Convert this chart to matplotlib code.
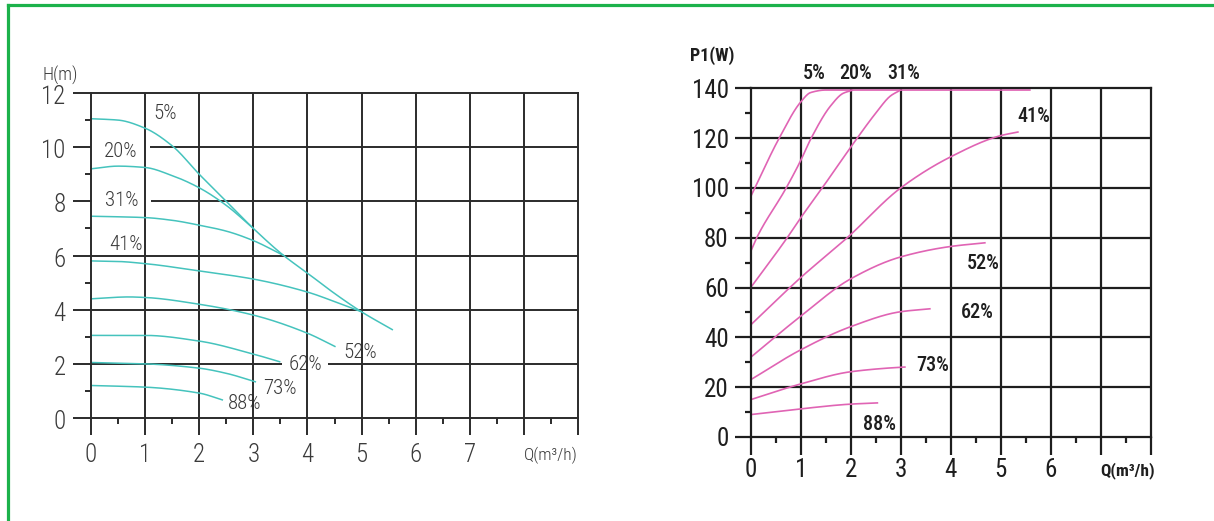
import numpy as np
import matplotlib
matplotlib.use("Agg")
import matplotlib.pyplot as plt
from matplotlib import font_manager as fm
from matplotlib.lines import Line2D
from matplotlib.ticker import MultipleLocator, NullFormatter

# ---------------- data : left chart  H(m) vs Q(m3/h) ----------------
h_speeds = ["5%", "20%", "31%", "41%", "52%", "62%", "73%", "88%"]
h_q = [
    [0, 0.5, 1, 1.5, 2, 2.5, 3, 3.56, 4, 4.5, 5, 5.58],
    [0, 0.5, 1, 1.5, 2, 2.5, 3],
    [0, 1, 1.5, 2, 2.5, 3, 3.56],
    [0, 0.5, 1, 2, 3, 4, 4.5, 5],
    [0, 0.7, 1, 2, 3, 4, 4.52],
    [0, 1, 2, 3, 3.5],
    [0, 1, 2, 2.5, 3.05],
    [0, 1, 2, 2.44],
]
h_h = [
    [11.05, 11.0, 10.7, 10.05, 9.0, 8.0, 7.0, 6.0, 5.35, 4.6, 3.92, 3.25],
    [9.2, 9.3, 9.25, 8.95, 8.5, 7.85, 7.0],
    [7.45, 7.4, 7.3, 7.12, 6.9, 6.55, 6.0],
    [5.8, 5.78, 5.7, 5.43, 5.13, 4.65, 4.3, 3.92],
    [4.4, 4.47, 4.45, 4.2, 3.8, 3.13, 2.63],
    [3.05, 3.05, 2.84, 2.36, 2.07],
    [2.05, 2.0, 1.84, 1.65, 1.33],
    [1.2, 1.14, 0.92, 0.66],
]
h_lab_x = [1.36, 0.54, 0.565, 0.65, 4.98, 3.96, 3.49, 2.84]
h_lab_y = [11.24, 9.84, 8.03, 6.4, 2.42, 1.99, 1.09, 0.54]
h_lab_pad = [0.1, 0.62, 0.62, 0.05, 0.0, 0.3, 0.1, 0.1]
h_xticks = [0, 1, 2, 3, 4, 5, 6, 7]
h_yticks = [0, 2, 4, 6, 8, 10, 12]

# ---------------- data : right chart  P1(W) vs Q(m3/h) ----------------
p_speeds = ["5%", "20%", "31%", "41%", "52%", "62%", "73%", "88%"]
p_q = [
    [0, 0.57, 1, 1.2, 1.5, 5.6],
    [0, 0.12, 0.71, 1, 1.21, 1.6, 1.85, 2.05],
    [0, 0.73, 1, 1.43, 2.13, 2.5, 2.8, 3.0],
    [0, 1, 1.93, 3, 4, 5, 5.36],
    [0, 1, 2, 3, 4, 4.7],
    [0, 1, 2, 3, 3.6],
    [0, 1, 2, 3, 3.1],
    [0, 1, 2, 2.55],
]
p_w = [
    [96.5, 120, 134.5, 138.3, 139.3, 139.3],
    [74.5, 80, 100, 111, 120, 133, 138, 139.3],
    [60, 80, 88, 100, 120, 130, 137, 139.3],
    [45, 64, 80, 100, 112.5, 121, 122.5],
    [32, 48.5, 63.5, 72.3, 76.5, 78],
    [23, 35, 44.3, 50.3, 51.5],
    [15, 21.3, 26.2, 28, 28.1],
    [9, 11.3, 13.2, 13.7],
]
p_lab_x = [1.27, 2.10, 3.05, 5.66, 4.65, 4.53, 3.64, 2.58]
p_lab_y = [145.9, 145.9, 145.9, 128.7, 69.5, 49.8, 28.7, 5.2]
p_xticks = [0, 1, 2, 3, 4, 5, 6]
p_yticks = [0, 20, 40, 60, 80, 100, 120, 140]

# ---------------- fonts ----------------
names = {f.name for f in fm.fontManager.ttflist}
narrow = None
for cand in ["Roboto Condensed", "Liberation Sans Narrow", "Open Sans Condensed",
             "Noto Sans Condensed", "DejaVu Sans Condensed"]:
    if cand in names:
        narrow = cand
        break
stretch = "normal"
if narrow is None:
    narrow = "DejaVu Sans"
    for f in fm.fontManager.ttflist:
        if f.name == "DejaVu Sans" and "condensed" in str(f.stretch):
            stretch = "condensed"
            break
FAM = [narrow, "DejaVu Sans"]
plt.rcParams["font.family"] = FAM


def smooth(x, y, n=300):
    x = np.asarray(x, float)
    y = np.asarray(y, float)
    h = np.diff(x)
    d = np.diff(y) / h
    m = np.zeros_like(y)
    for k in range(1, len(x) - 1):
        if d[k - 1] * d[k] > 0:
            w1 = 2 * h[k] + h[k - 1]
            w2 = h[k] + 2 * h[k - 1]
            m[k] = (w1 + w2) / (w1 / d[k - 1] + w2 / d[k])
    m[0] = d[0]
    m[-1] = d[-1]
    xs = np.linspace(x[0], x[-1], n)
    i = np.clip(np.searchsorted(x, xs, side="right") - 1, 0, len(h) - 1)
    t = (xs - x[i]) / h[i]
    h00 = 2 * t**3 - 3 * t**2 + 1
    h10 = t**3 - 2 * t**2 + t
    h01 = -2 * t**3 + 3 * t**2
    h11 = t**3 - t**2
    ys = h00 * y[i] + h10 * h[i] * m[i] + h01 * y[i + 1] + h11 * h[i] * m[i + 1]
    return xs, ys


fig = plt.figure(figsize=(12.14, 5.21), dpi=100)
fig.patch.set_facecolor("white")

GREEN = "#1cb24b"
fig.add_artist(Line2D([7.5 / 1214, 1.01], [1 - 4.5 / 521, 1 - 4.5 / 521],
                      transform=fig.transFigure, color=GREEN, lw=2.3, solid_capstyle="projecting"))
fig.add_artist(Line2D([7.5 / 1214, 7.5 / 1214], [1 - 4.5 / 521, -0.01],
                      transform=fig.transFigure, color=GREEN, lw=2.3, solid_capstyle="projecting"))


def setup_axes(ax, xmax, ymax, ymajor, yminor, gc, glw, ylen, xlen):
    ax.set_xlim(0, xmax)
    ax.set_ylim(0, ymax)
    for s in ax.spines.values():
        s.set_color(gc)
        s.set_linewidth(glw)
        s.set_zorder(3)
    ax.xaxis.set_major_locator(MultipleLocator(1))
    ax.xaxis.set_minor_locator(MultipleLocator(0.5))
    ax.yaxis.set_major_locator(MultipleLocator(ymajor))
    ax.yaxis.set_minor_locator(MultipleLocator(yminor))
    ax.set_xticklabels([])
    ax.set_yticklabels([])
    ax.xaxis.set_minor_formatter(NullFormatter())
    ax.yaxis.set_minor_formatter(NullFormatter())
    ax.tick_params(axis="y", which="major", length=ylen, width=glw, color=gc)
    ax.tick_params(axis="x", which="major", length=xlen, width=glw, color=gc)
    ax.tick_params(axis="both", which="minor", length=4.3, width=glw, color=gc)
    # grid: horizontal below label boxes, vertical above
    for yv in np.arange(ymajor, ymax, ymajor):
        ax.axhline(yv, color=gc, lw=glw, zorder=0.5)
    for xv in np.arange(1, xmax, 1):
        ax.axvline(xv, color=gc, lw=glw, zorder=1.6)


# ---------------- left chart ----------------
LC = "#3a3a3a"
LW = "light"
axL = fig.add_axes([91 / 1214, 1 - 418 / 521, (578 - 91) / 1214, (418 - 93) / 521])
setup_axes(axL, 9, 12, 2, 1, "#2b2b2b", 1.4, 13, 12)
TEAL = "#45c3bd"
for q, h in zip(h_q, h_h):
    xs, ys = smooth(q, h)
    axL.plot(xs, ys, color=TEAL, lw=1.1, zorder=2.5, solid_capstyle="butt")
for s, x, y, p in zip(h_speeds, h_lab_x, h_lab_y, h_lab_pad):
    axL.text(x, y, s, ha="center", va="center", fontsize=15, color=LC, fontweight=LW,
             fontstretch=stretch, zorder=1.2,
             bbox=dict(boxstyle=f"square,pad={p}", fc="white", ec="none"))
for v in h_xticks:
    axL.text(v, -1.37, str(v), ha="center", va="center", fontsize=18, color=LC,
             fontweight=LW, fontstretch=stretch, clip_on=False)
for v in h_yticks:
    axL.text(-0.47, v - 0.15, str(v), ha="right", va="center", fontsize=18, color=LC,
             fontweight=LW, fontstretch=stretch, clip_on=False)
axL.text(9.0, -1.37, "Q(m³/h)", ha="right", va="center", fontsize=12.5, color=LC,
         fontweight=LW, fontstretch=stretch, clip_on=False)
axL.text(-0.57, 12.65, "H(m)", ha="center", va="center", fontsize=13, color=LC,
         fontweight=LW, fontstretch=stretch, clip_on=False)

# ---------------- right chart ----------------
RC = "#1e1e1e"
axR = fig.add_axes([750.7 / 1214, 1 - 437 / 521, 400 / 1214, (437 - 88.3) / 521])
setup_axes(axR, 8, 140, 20, 10, RC, 1.6, 11.3, 13)
PINK = "#e064b4"
for q, w in zip(p_q, p_w):
    xs, ys = smooth(q, w)
    axR.plot(xs, ys, color=PINK, lw=1.2, zorder=2.5, solid_capstyle="butt")
for s, x, y in zip(p_speeds, p_lab_x, p_lab_y):
    axR.text(x, y, s, ha="center", va="center", fontsize=14.5, color=RC,
             fontweight="medium", fontstretch=stretch, zorder=1.2, clip_on=False,
             bbox=dict(boxstyle="square,pad=0.1", fc="white", ec="none"))
for v in p_xticks:
    axR.text(v, -13.3, str(v), ha="center", va="center", fontsize=18, color=RC,
             fontstretch=stretch, clip_on=False)
for v in p_yticks:
    axR.text(-0.44, v - 1.0, str(v), ha="right", va="center", fontsize=18, color=RC,
             fontstretch=stretch, clip_on=False)
axR.text(8.09, -13.3, "Q(m³/h)", ha="right", va="center", fontsize=12.5, color=RC,
         fontweight="bold", fontstretch=stretch, clip_on=False)
axR.text(-0.77, 153, "P1(W)", ha="center", va="center", fontsize=13, color=RC,
         fontweight="bold", fontstretch=stretch, clip_on=False)

fig.savefig("out.png", dpi=100, facecolor="white")
